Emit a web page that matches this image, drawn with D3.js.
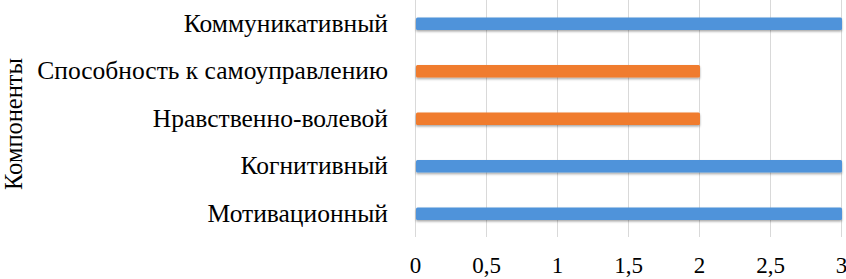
<!DOCTYPE html>
<html>
<head>
<meta charset="utf-8">
<script src="https://cdn.jsdelivr.net/npm/d3@7"></script>
<style>
  body { margin: 0; background: #fff; }
</style>
</head>
<body>
<div class="container"></div>
<script>
// categories listed bottom -> top as in the picture
var categories = ['Мотивационный', 'Когнитивный', 'Нравственно-волевой',
    'Способность к самоуправлению', 'Коммуникативный'];
var values = [3, 3, 2, 2, 3];
var barColors = ['#4f93da', '#4f93da', '#f07b2f', '#f07b2f', '#4f93da'];
var tickValues = [0, 0.5, 1, 1.5, 2, 2.5, 3];
var axisTitle = 'Компоненты';

var FONT = '"Liberation Serif", "Times New Roman", Times, serif';
var WIDTH = 846, HEIGHT = 279;
var margin = {top: 0, left: 415};

var ruLocale = d3.formatLocale({decimal: ',', thousands: ' ', grouping: [3], currency: ['', '']});
var fmt = ruLocale.format('~g');

var svg = d3.select('.container').append('svg')
    .attr('width', WIDTH)
    .attr('height', HEIGHT)
    .style('font-family', FONT);

var defs = svg.append('defs');
defs.append('filter')
    .attr('id', 'shadow')
    .attr('x', '-5%').attr('y', '-50%')
    .attr('width', '110%').attr('height', '200%')
    .append('feDropShadow')
    .attr('dx', 0).attr('dy', 1.5)
    .attr('stdDeviation', 1)
    .attr('flood-color', '#000')
    .attr('flood-opacity', 0.35);

var xScale = d3.scaleLinear().domain([0, 3]).range([0, 426]);
var yScale = d3.scaleBand()
    .domain(categories.slice().reverse())
    .range([0, 237.5])
    .paddingInner(0.74)
    .paddingOuter(0.37);

var g = svg.append('g')
    .attr('transform', 'translate(' + margin.left + ',' + margin.top + ')');

// gridlines
g.append('g').selectAll('line')
    .data(tickValues)
    .enter()
    .append('line')
    .attr('x1', function (d) { return xScale(d) + 0.5; })
    .attr('x2', function (d) { return xScale(d) + 0.5; })
    .attr('y1', 0)
    .attr('y2', 237)
    .attr('stroke', '#d9d9d9')
    .attr('stroke-width', 1);

// bars
g.append('g').selectAll('rect')
    .data(categories)
    .enter()
    .append('rect')
    .attr('x', xScale(0) + 1)
    .attr('y', function (d) { return yScale(d); })
    .attr('width', function (d, i) { return xScale(values[i]) - xScale(0); })
    .attr('height', yScale.bandwidth())
    .attr('rx', 1.5)
    .attr('fill', function (d, i) { return barColors[i]; })
    .attr('filter', 'url(#shadow)');

// x axis tick labels
var xAxis = g.append('g')
    .attr('transform', 'translate(0,237)')
    .call(d3.axisBottom(xScale).tickValues(tickValues).tickFormat(fmt).tickSize(0).tickPadding(20));
xAxis.attr('font-family', null).attr('font-size', null);
xAxis.select('.domain').remove();
xAxis.selectAll('text')
    .attr('fill', '#000')
    .style('font-family', FONT)
    .style('font-size', '23px');

// category labels
var yAxis = g.append('g')
    .call(d3.axisLeft(yScale).tickSize(0).tickPadding(27));
yAxis.attr('font-family', null).attr('font-size', null);
yAxis.select('.domain').remove();
yAxis.selectAll('text')
    .attr('fill', '#000')
    .style('font-family', FONT)
    .style('font-size', '25.5px');

// axis title
svg.append('text')
    .attr('transform', 'translate(22,124) rotate(-90)')
    .attr('text-anchor', 'middle')
    .style('font-family', FONT)
    .style('font-size', '24.5px')
    .text(axisTitle);
</script>
</body>
</html>
